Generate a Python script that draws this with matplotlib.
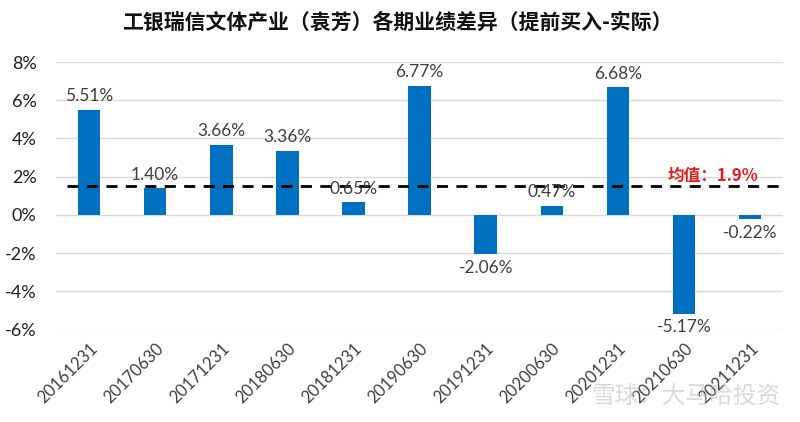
import matplotlib
matplotlib.use("Agg")
import matplotlib.pyplot as plt
from matplotlib.ticker import FuncFormatter

plt.rcParams['font.family'] = ['Lato', 'Noto Sans CJK SC', 'DejaVu Sans']

# ---- data ----
periods = ["20161231", "20170630", "20171231", "20180630", "20181231", "20190630",
           "20191231", "20200630", "20201231", "20210630", "20211231"]
diff_pct = [5.51, 1.40, 3.66, 3.36, 0.65, 6.77, -2.06, 0.47, 6.68, -5.17, -0.22]
mean_line = 1.5          # where the dashed line is drawn in the picture
mean_label = "均值：1.9%"
title = "工银瑞信文体产业（袁芳）各期业绩差异（提前买入-实际）"
yticks = [-6, -4, -2, 0, 2, 4, 6, 8]

BAR = "#0070C0"

fig = plt.figure(figsize=(8, 4.22), dpi=100)
ax = fig.add_axes([0.07, 0.219, 0.909, 0.634])

x = list(range(len(periods)))
ax.bar(x, diff_pct, width=0.34, color=BAR, zorder=3)

for xi, v in zip(x, diff_pct):
    if v >= 0:
        ax.annotate(f"{v:.2f}%", (xi, v), xytext=(0, 4), textcoords="offset points",
                    ha="center", va="bottom", fontsize=12.5, color="#404040", zorder=5)
    else:
        ax.annotate(f"{v:.2f}%", (xi, v), xytext=(0, -4), textcoords="offset points",
                    ha="center", va="top", fontsize=12.5, color="#404040", zorder=5)

ax.plot([-0.33, 10.47], [mean_line, mean_line], ls=(0, (4, 3)), color="black", lw=2, zorder=4)
ax.text(9.44, 2.05, mean_label, color="#E02020", fontsize=12, fontweight="bold",
        ha="center", va="center", family=["Noto Sans CJK SC", "DejaVu Sans"], zorder=5)

ax.set_xlim(-0.5, len(periods) - 0.5)
ax.set_ylim(-6, 8)
ax.set_yticks(yticks)
ax.yaxis.set_major_formatter(FuncFormatter(lambda v, p: f"{v:.0f}%"))
ax.grid(axis="y", color="#D9D9D9", lw=1, zorder=0)
ax.set_xticks(x)
ax.set_xticklabels(periods, rotation=45, ha="right", rotation_mode="anchor", fontsize=12,
                   color="#404040")
ax.tick_params(axis="both", length=0)
ax.tick_params(axis="y", labelsize=13, colors="#202020", pad=14)
ax.tick_params(axis="x", pad=8)
for s in ax.spines.values():
    s.set_visible(False)

fig.text(0.497, 0.947, title, ha="center", va="center", fontsize=15, fontweight="bold",
         family=["Noto Sans CJK SC", "DejaVu Sans"], color="#111111")

# faint watermark
fig.text(0.975, 0.06, "雪球：大马哈投资", ha="right", va="center", fontsize=17,
         family=["Noto Sans CJK SC", "DejaVu Sans"], color="#BBBBBB", alpha=0.55)

fig.savefig("out.png", dpi=100)
